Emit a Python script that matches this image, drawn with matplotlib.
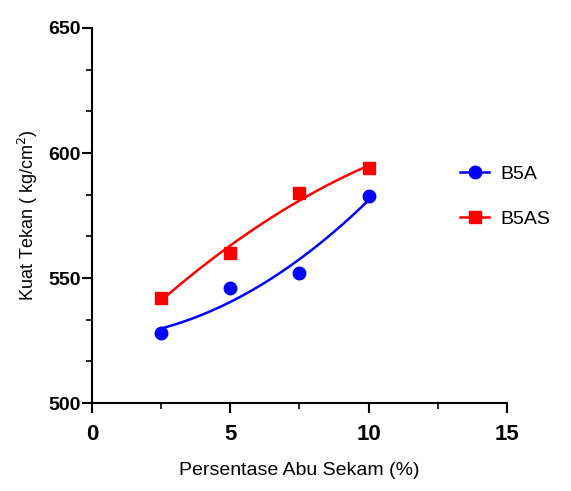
import numpy as np
import matplotlib
matplotlib.use('Agg')
import matplotlib.pyplot as plt
from matplotlib.ticker import MultipleLocator
from matplotlib.lines import Line2D

plt.rcParams['font.family'] = ['Liberation Sans', 'DejaVu Sans']

# data
abu = [2.5, 5.0, 7.5, 10.0]
b5a = [528, 546, 552, 583]
b5as = [542, 560, 584, 594]

series = [
    ('B5A', b5a, 'blue', 'o'),
    ('B5AS', b5as, 'red', 's'),
]

fig = plt.figure(figsize=(5.71, 4.91), dpi=100)
ax = fig.add_axes([0.161, 0.179, 0.727, 0.764])

xs = np.linspace(min(abu), max(abu), 100)
handles = []
for name, vals, col, mk in series:
    # second order trend line, like the original fit
    coef = np.polyfit(abu, vals, 2)
    ax.plot(xs, np.polyval(coef, xs), color=col, linewidth=1.8)
    ax.plot(abu, vals, linestyle='none', marker=mk, color=col, markersize=9)
    handles.append(Line2D([], [], color=col, marker=mk, markersize=9, linewidth=1.8))

ax.set_xlim(0, 15)
ax.set_ylim(500, 650)
ax.xaxis.set_major_locator(MultipleLocator(5))
ax.xaxis.set_minor_locator(MultipleLocator(2.5))
ax.yaxis.set_major_locator(MultipleLocator(50))
ax.yaxis.set_minor_locator(MultipleLocator(50 / 3))

for s in ['top', 'right']:
    ax.spines[s].set_visible(False)
for s in ['left', 'bottom']:
    ax.spines[s].set_linewidth(1.5)

ax.tick_params(which='major', direction='out', length=7, width=1.5)
ax.tick_params(which='minor', direction='out', length=4, width=1.2)
ax.tick_params(axis='x', which='major', labelsize=16, pad=8)
ax.tick_params(axis='y', which='major', labelsize=14, pad=1)
for lab in ax.get_xticklabels() + ax.get_yticklabels():
    lab.set_fontweight('bold')

ax.set_xlabel('Persentase Abu Sekam (%)', fontsize=14, labelpad=12)
ax.set_ylabel('Kuat Tekan ( kg/cm$^{2}$)', fontsize=13, labelpad=6)

fig.legend(handles, [s[0] for s in series], loc='center left',
           bbox_to_anchor=(0.775, 0.6), frameon=False, fontsize=14,
           handlelength=1.5, handletextpad=0.6, labelspacing=1.4)

fig.savefig('out.png', dpi=100)
